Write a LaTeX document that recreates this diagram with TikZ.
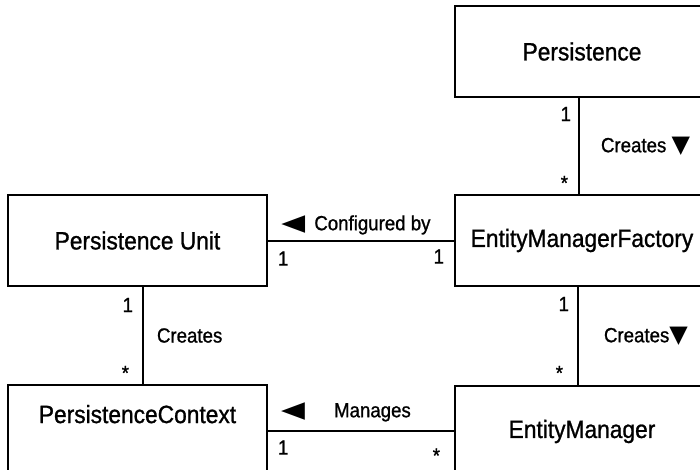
\documentclass[tikz,border=0pt]{standalone}
\usepackage{fontspec}
\setmainfont{Liberation Sans}[FakeStretch=0.91, FakeBold=1]
\newfontfamily\symfont{DejaVu Sans}
\usetikzlibrary{positioning}

\newcommand{\lefttri}{\scalebox{1.35}[1]{\symfont\fontsize{23}{23}\selectfont ◀}}
\newcommand{\downtri}{{\symfont\fontsize{24}{24}\selectfont ▼}}

\begin{document}
\begin{tikzpicture}[
    line width=2pt,
    entity/.style={draw, minimum height=91pt, inner sep=0pt, font=\fontsize{25}{30}\selectfont},
    leftbox/.style={entity, minimum width=259pt},
    rightbox/.style={entity, minimum width=254pt},
    mult/.style={font=\fontsize{20.5}{24}\selectfont, inner sep=2pt},
  ]
  \useasboundingbox (0,0) rectangle (700pt,-470pt);
  \clip (0,0) rectangle (700pt,-470pt);

  \node[leftbox] (unit) at (137.5pt,-240.5pt) {Persistence Unit};
  \node[rightbox, right=186pt of unit] (factory) {EntityManagerFactory};
  \node[rightbox, above=96pt of factory] (pers) {Persistence};
  \node[rightbox, below=98pt of factory] (manager) {EntityManager};
  \node[leftbox, below=97pt of unit, text depth=33pt] (context) {PersistenceContext};

  %pers>factory
  \draw ([xshift=-3pt]pers.south) -- node[mult, pos=0, below left=6pt and 5pt] {1}
    node[mult, midway, right=19pt] {Creates \downtri}
    node[mult, pos=1, above left=1pt and 8pt] {*} ([xshift=-3pt]factory.north);

  %factory>manager
  \draw ([xshift=-4pt]factory.south) -- node[mult, pos=0, below left=7pt and 6pt] {1}
    node[mult, midway, right=23pt] {Creates\downtri}
    node[mult, pos=1, above left=2pt and 12pt] {*} ([xshift=-4pt]manager.north);

  %unit>context
  \draw ([xshift=5.5pt]unit.south) -- node[mult, pos=0, below left=8pt and 7pt] {1}
    node[mult, midway, right=11pt] {Creates}
    node[mult, pos=1, above left=1pt and 11pt] {*} ([xshift=5.5pt]context.north);

  %factory>unit
  \draw (unit.east) -- node[mult, pos=0, below right=8pt and 7pt] {1}
    node[mult, midway, above=3pt, xshift=-5pt] {\lefttri\hspace{9pt}Configured by}
    node[mult, pos=1, below left=6pt and 7pt] {1} (factory.west);

  %manager>context
  \draw (context.east) -- node[mult, pos=0, below right=7pt and 7pt] {1}
    node[mult, midway, above=6pt, xshift=-15pt] {\lefttri\hspace{29pt}Manages}
    node[mult, pos=1, below left=15pt and 11pt] {*} (context.east -| manager.west);
\end{tikzpicture}
\end{document}
